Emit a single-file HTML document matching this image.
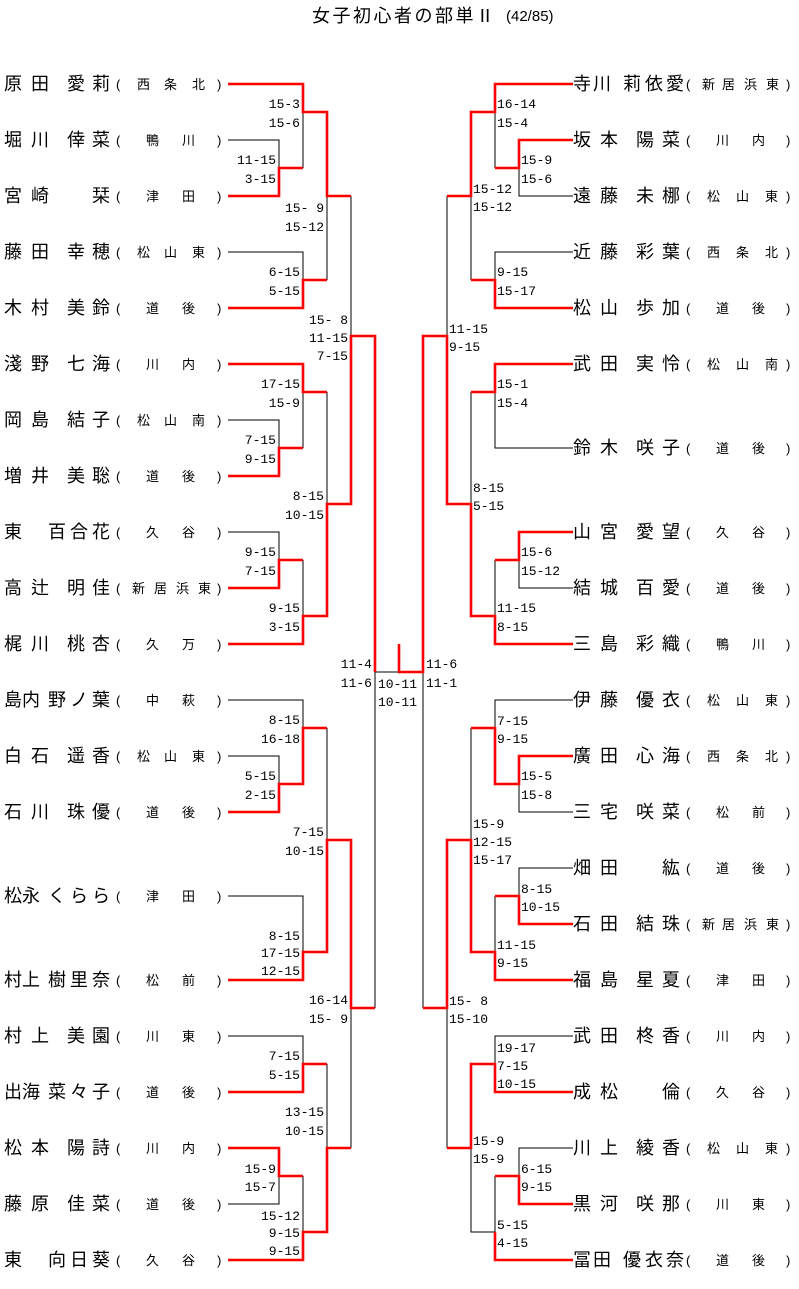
<!DOCTYPE html>
<html><head><meta charset="utf-8"><style>
html,body{margin:0;padding:0;background:#fff;}
svg{display:block;}
.n{font-family:"Liberation Sans","Noto Sans CJK JP",sans-serif;font-size:18px;fill:#000;}
.a{font-family:"Liberation Sans","Noto Sans CJK JP",sans-serif;font-size:13px;fill:#000;}
.s{font-family:"Liberation Mono",monospace;font-size:13px;fill:#000;}
.e{text-anchor:end;}
</style></head><body>
<svg width="799" height="1289" viewBox="0 0 799 1289" xmlns="http://www.w3.org/2000/svg">
<text x="312" y="22" style="font-family:'Liberation Sans','Noto Sans CJK JP',sans-serif;font-size:18px;letter-spacing:2.5px">女子初心者の部単Ⅱ</text>
<text x="506" y="21" style="font-family:'Liberation Sans','Noto Sans CJK JP',sans-serif;font-size:15px">(42/85)</text>

<g fill="none" stroke="#000" stroke-width="1">
<path d="M228 140H279V168M303 112V168M327 196V280M351 196V336M228 252H303V280M303 392V448M228 420H279V448M327 392V504M228 532H279V560M303 560V616M375 672V1008M375 672H399M228 700H303V728M228 756H279V784M327 728V840M228 896H303V952M351 1008V1148M228 1036H303V1064M327 1064V1148M228 1204H279V1176M303 1176V1232"/>
<path d="M573 196H519V168M495 112V168M471 196V280M573 252H495V280M447 196V336M573 448H495V392M471 392V504M573 588H519V560M495 560V616M423 672V1008M573 700H495V728M573 812H519V784M471 728V840M573 868H519V896M495 896V952M447 1008V1148M573 1036H495V1064M471 1148V1232H495M573 1148H519V1176M495 1176V1232"/>
</g>
<g fill="none" stroke="#f00" stroke-width="2.6" stroke-linejoin="miter">
<path d="M228 84H303V112H327V196H351"/>
<path d="M228 196H279V168H303"/>
<path d="M228 308H303V280H327"/>
<path d="M228 364H303V392H327"/>
<path d="M228 476H279V448H303"/>
<path d="M228 588H279V560H303"/>
<path d="M228 644H303V616H327V504H351V336H375V672"/>
<path d="M228 812H279V784H303V728H327"/>
<path d="M228 980H303V952H327V840H351V1008H375"/>
<path d="M228 1092H303V1064H327"/>
<path d="M228 1148H279V1176H303"/>
<path d="M228 1260H303V1232H327V1148H351"/>
<path d="M399 644V672H423V336H447V504H471V616H495V644H573"/>
<path d="M573 84H495V112H471V196H447"/>
<path d="M573 140H519V168H495"/>
<path d="M573 308H495V280H471"/>
<path d="M573 364H495V392H471"/>
<path d="M573 532H519V560H495"/>
<path d="M573 756H519V784H495V728H471"/>
<path d="M573 924H519V896H495"/>
<path d="M573 980H495V952H471V840H447V1008H423"/>
<path d="M573 1092H495V1064H471V1148H447"/>
<path d="M573 1204H519V1176H495"/>
<path d="M573 1260H495V1232"/>
</g>

<g class="n">
<text x="4 31 67 92" y="90">原田愛莉</text>
<text x="4 31 67 92" y="146">堀川倖菜</text>
<text x="4 31 92" y="202">宮崎栞</text>
<text x="4 31 67 92" y="258">藤田幸穂</text>
<text x="4 31 67 92" y="314">木村美鈴</text>
<text x="4 31 67 92" y="370">淺野七海</text>
<text x="4 31 67 92" y="426">岡島結子</text>
<text x="4 31 67 92" y="482">増井美聡</text>
<text x="4 48 70 92" y="538">東百合花</text>
<text x="4 31 67 92" y="594">高辻明佳</text>
<text x="4 31 67 92" y="650">梶川桃杏</text>
<text x="4 22 48 70 92" y="706">島内野ノ葉</text>
<text x="4 31 67 92" y="762">白石遥香</text>
<text x="4 31 67 92" y="818">石川珠優</text>
<text x="4 22 48 70 92" y="902">松永くらら</text>
<text x="4 22 48 70 92" y="986">村上樹里奈</text>
<text x="4 31 67 92" y="1042">村上美園</text>
<text x="4 22 48 70 92" y="1098">出海菜々子</text>
<text x="4 31 67 92" y="1154">松本陽詩</text>
<text x="4 31 67 92" y="1210">藤原佳菜</text>
<text x="4 48 70 92" y="1266">東向日葵</text>
</g>
<g class="a">
<text x="116 137 164 192 217" y="89">(西条北)</text>
<text x="116 146 182 217" y="145">(鴨川)</text>
<text x="116 146 182 217" y="201">(津田)</text>
<text x="116 137 164 192 217" y="257">(松山東)</text>
<text x="116 146 182 217" y="313">(道後)</text>
<text x="116 146 182 217" y="369">(川内)</text>
<text x="116 137 164 192 217" y="425">(松山南)</text>
<text x="116 146 182 217" y="481">(道後)</text>
<text x="116 146 182 217" y="537">(久谷)</text>
<text x="116 132 154 176 198 217" y="593">(新居浜東)</text>
<text x="116 146 182 217" y="649">(久万)</text>
<text x="116 146 182 217" y="705">(中萩)</text>
<text x="116 137 164 192 217" y="761">(松山東)</text>
<text x="116 146 182 217" y="817">(道後)</text>
<text x="116 146 182 217" y="901">(津田)</text>
<text x="116 146 182 217" y="985">(松前)</text>
<text x="116 146 182 217" y="1041">(川東)</text>
<text x="116 146 182 217" y="1097">(道後)</text>
<text x="116 146 182 217" y="1153">(川内)</text>
<text x="116 146 182 217" y="1209">(道後)</text>
<text x="116 146 182 217" y="1265">(久谷)</text>
</g>

<g class="n">
<text x="573 593 623 645 666" y="90">寺川莉依愛</text>
<text x="573 600 636 662" y="146">坂本陽菜</text>
<text x="573 600 636 662" y="202">遠藤未梛</text>
<text x="573 600 636 662" y="258">近藤彩葉</text>
<text x="573 600 636 662" y="314">松山歩加</text>
<text x="573 600 636 662" y="370">武田実怜</text>
<text x="573 600 636 662" y="454">鈴木咲子</text>
<text x="573 600 636 662" y="538">山宮愛望</text>
<text x="573 600 636 662" y="594">結城百愛</text>
<text x="573 600 636 662" y="650">三島彩織</text>
<text x="573 600 636 662" y="706">伊藤優衣</text>
<text x="573 600 636 662" y="762">廣田心海</text>
<text x="573 600 636 662" y="818">三宅咲菜</text>
<text x="573 600 662" y="874">畑田紘</text>
<text x="573 600 636 662" y="930">石田結珠</text>
<text x="573 600 636 662" y="986">福島星夏</text>
<text x="573 600 636 662" y="1042">武田柊香</text>
<text x="573 600 662" y="1098">成松倫</text>
<text x="573 600 636 662" y="1154">川上綾香</text>
<text x="573 600 636 662" y="1210">黒河咲那</text>
<text x="573 593 623 645 666" y="1266">冨田優衣奈</text>
</g>
<g class="a">
<text x="686 702 722 744 766 786" y="89">(新居浜東)</text>
<text x="686 716 752 786" y="145">(川内)</text>
<text x="686 707 736 765 786" y="201">(松山東)</text>
<text x="686 707 736 765 786" y="257">(西条北)</text>
<text x="686 716 752 786" y="313">(道後)</text>
<text x="686 707 736 765 786" y="369">(松山南)</text>
<text x="686 716 752 786" y="453">(道後)</text>
<text x="686 716 752 786" y="537">(久谷)</text>
<text x="686 716 752 786" y="593">(道後)</text>
<text x="686 716 752 786" y="649">(鴨川)</text>
<text x="686 707 736 765 786" y="705">(松山東)</text>
<text x="686 707 736 765 786" y="761">(西条北)</text>
<text x="686 716 752 786" y="817">(松前)</text>
<text x="686 716 752 786" y="873">(道後)</text>
<text x="686 702 722 744 766 786" y="929">(新居浜東)</text>
<text x="686 716 752 786" y="985">(津田)</text>
<text x="686 716 752 786" y="1041">(川内)</text>
<text x="686 716 752 786" y="1097">(久谷)</text>
<text x="686 707 736 765 786" y="1153">(松山東)</text>
<text x="686 716 752 786" y="1209">(川東)</text>
<text x="686 716 752 786" y="1265">(道後)</text>
</g>

<g class="s e">
<text x="300" y="108">15-3</text><text x="300" y="127">15-6</text>
<text x="276" y="164">11-15</text><text x="276" y="183">3-15</text>
<text x="324" y="212">15- 9</text><text x="324" y="231">15-12</text>
<text x="300" y="276">6-15</text><text x="300" y="295">5-15</text>
<text x="348" y="324">15- 8</text><text x="348" y="342">11-15</text><text x="348" y="360">7-15</text>
<text x="300" y="388">17-15</text><text x="300" y="407">15-9</text>
<text x="276" y="444">7-15</text><text x="276" y="463">9-15</text>
<text x="324" y="500">8-15</text><text x="324" y="519">10-15</text>
<text x="276" y="556">9-15</text><text x="276" y="575">7-15</text>
<text x="300" y="612">9-15</text><text x="300" y="631">3-15</text>
<text x="372" y="668">11-4</text><text x="372" y="687">11-6</text>
<text x="300" y="724">8-15</text><text x="300" y="743">16-18</text>
<text x="276" y="780">5-15</text><text x="276" y="799">2-15</text>
<text x="324" y="836">7-15</text><text x="324" y="855">10-15</text>
<text x="300" y="940">8-15</text><text x="300" y="957">17-15</text><text x="300" y="975">12-15</text>
<text x="348" y="1004">16-14</text><text x="348" y="1023">15- 9</text>
<text x="300" y="1060">7-15</text><text x="300" y="1079">5-15</text>
<text x="324" y="1116">13-15</text><text x="324" y="1135">10-15</text>
<text x="276" y="1173">15-9</text><text x="276" y="1191">15-7</text>
<text x="300" y="1220">15-12</text><text x="300" y="1237">9-15</text><text x="300" y="1255">9-15</text>
</g>
<g class="s">
<text x="378" y="688">10-11</text><text x="378" y="706">10-11</text>
<text x="426" y="668">11-6</text><text x="426" y="687">11-1</text>
<text x="497" y="108">16-14</text><text x="497" y="127">15-4</text>
<text x="521" y="164">15-9</text><text x="521" y="183">15-6</text>
<text x="473" y="193">15-12</text><text x="473" y="211">15-12</text>
<text x="497" y="276">9-15</text><text x="497" y="295">15-17</text>
<text x="449" y="333">11-15</text><text x="449" y="351"> 9-15</text>
<text x="497" y="388">15-1</text><text x="497" y="407">15-4</text>
<text x="473" y="492">8-15</text><text x="473" y="510">5-15</text>
<text x="521" y="556">15-6</text><text x="521" y="575">15-12</text>
<text x="497" y="612">11-15</text><text x="497" y="631">8-15</text>
<text x="497" y="725">7-15</text><text x="497" y="743">9-15</text>
<text x="521" y="780">15-5</text><text x="521" y="799">15-8</text>
<text x="473" y="828">15-9</text><text x="473" y="846">12-15</text><text x="473" y="864">15-17</text>
<text x="521" y="893">8-15</text><text x="521" y="911">10-15</text>
<text x="497" y="949">11-15</text><text x="497" y="967">9-15</text>
<text x="449" y="1005">15- 8</text><text x="449" y="1023">15-10</text>
<text x="497" y="1052">19-17</text><text x="497" y="1070">7-15</text><text x="497" y="1088">10-15</text>
<text x="473" y="1145">15-9</text><text x="473" y="1163">15-9</text>
<text x="521" y="1173">6-15</text><text x="521" y="1191">9-15</text>
<text x="497" y="1229">5-15</text><text x="497" y="1247">4-15</text>
</g>
</svg>
</body></html>
